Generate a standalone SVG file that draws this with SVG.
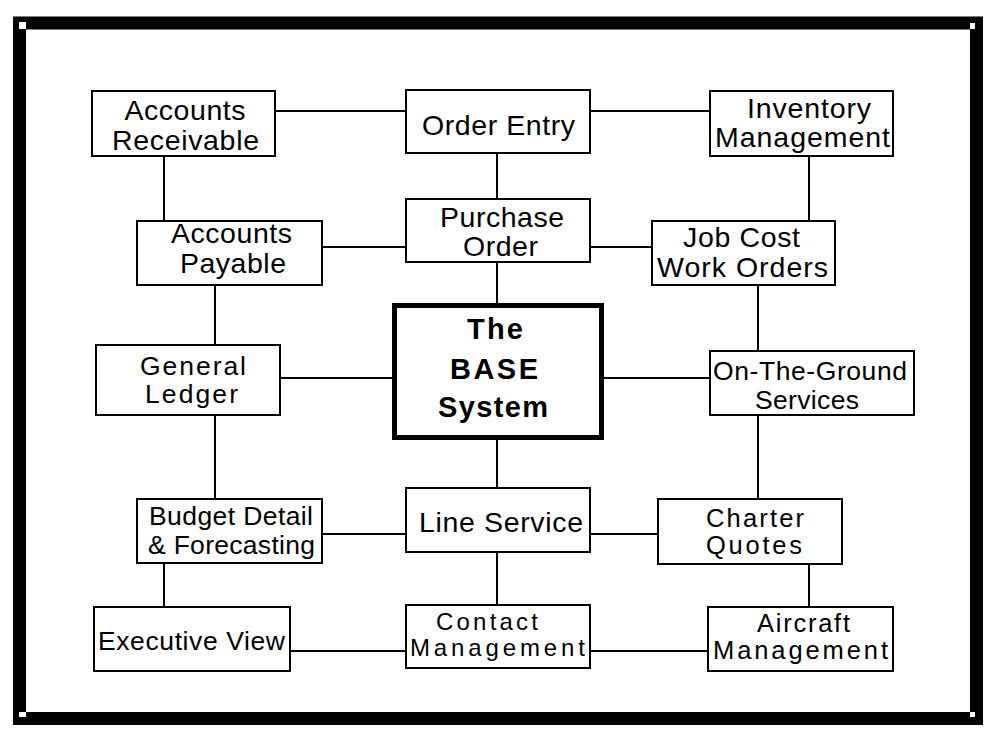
<svg xmlns="http://www.w3.org/2000/svg" width="1000" height="740" viewBox="0 0 1000 740">
<style>
.box{fill:#fff;stroke:#000;stroke-width:2}
.main{fill:#fff;stroke:#000;stroke-width:5}
.t{font-family:"Liberation Sans",Arial,sans-serif;font-size:28.5px;fill:#000;text-anchor:middle}
.s{font-size:26.5px}
.n{font-size:25.5px}
.m{font-size:24px}
.b{font-weight:bold;font-size:29px}
#connectors line{stroke:#000;stroke-width:2}
</style>
<rect x="0" y="0" width="1000" height="740" fill="#fff"/>
<g id="frame">
<rect x="19.5" y="23" width="957" height="695.5" fill="none" stroke="#000" stroke-width="13"/>
<rect x="19" y="22" width="7" height="7" fill="#fff"/>
<rect x="970" y="23" width="5" height="6" fill="#fff"/>
<rect x="19" y="712" width="7" height="5" fill="#fff"/>
<rect x="970" y="712" width="5" height="5" fill="#fff"/>
</g>
<g id="connectors">
<line x1="276" y1="111" x2="405" y2="111"/>
<line x1="591" y1="111" x2="709" y2="111"/>
<line x1="164" y1="157" x2="164" y2="220"/>
<line x1="497" y1="154" x2="497" y2="198"/>
<line x1="809" y1="157" x2="809" y2="220"/>
<line x1="323" y1="247" x2="405" y2="247"/>
<line x1="591" y1="247" x2="651" y2="247"/>
<line x1="215" y1="286" x2="215" y2="344"/>
<line x1="497" y1="263" x2="497" y2="303"/>
<line x1="758" y1="286" x2="758" y2="350"/>
<line x1="281" y1="378" x2="392" y2="378"/>
<line x1="604" y1="378" x2="709" y2="378"/>
<line x1="215" y1="416" x2="215" y2="498"/>
<line x1="497" y1="440" x2="497" y2="487"/>
<line x1="758" y1="416" x2="758" y2="498"/>
<line x1="323" y1="534" x2="405" y2="534"/>
<line x1="591" y1="534" x2="657" y2="534"/>
<line x1="164" y1="564" x2="164" y2="606"/>
<line x1="497" y1="553" x2="497" y2="604"/>
<line x1="809" y1="565" x2="809" y2="606"/>
<line x1="291" y1="651" x2="405" y2="651"/>
<line x1="591" y1="651" x2="707" y2="651"/>
</g>
<g id="accounts-receivable">
<rect class="box" x="92" y="91" width="183" height="65"/>
<text class="t" x="185" y="120" textLength="121">Accounts</text>
<text class="t" x="185.5" y="149.5" textLength="147">Receivable</text>
</g>
<g id="order-entry">
<rect class="box" x="406" y="90" width="184" height="63"/>
<text class="t" x="498.5" y="135" textLength="153">Order Entry</text>
</g>
<g id="inventory-management">
<rect class="box" x="710" y="91" width="183" height="65"/>
<text class="t" x="809" y="118" textLength="124">Inventory</text>
<text class="t" x="802.5" y="147" textLength="175">Management</text>
</g>
<g id="accounts-payable">
<rect class="box" x="137" y="221" width="185" height="64"/>
<text class="t" x="231.5" y="243" textLength="121">Accounts</text>
<text class="t" x="233" y="273" textLength="106">Payable</text>
</g>
<g id="purchase-order">
<rect class="box" x="406" y="199" width="184" height="63"/>
<text class="t" x="502" y="227" textLength="124">Purchase</text>
<text class="t" x="500.5" y="256" textLength="75">Order</text>
</g>
<g id="job-cost-work-orders">
<rect class="box" x="652" y="221" width="183" height="64"/>
<text class="t" x="741.5" y="247" textLength="117">Job Cost</text>
<text class="t" x="742.5" y="277" textLength="171">Work Orders</text>
</g>
<g id="general-ledger">
<rect class="box" x="96" y="345" width="184" height="70"/>
<text class="t s" x="193" y="375" textLength="106">General</text>
<text class="t s" x="191.5" y="403" textLength="93">Ledger</text>
</g>
<g id="base-system">
<rect class="main" x="394.5" y="305.5" width="207" height="132"/>
<text class="t b" x="495" y="339" textLength="56">The</text>
<text class="t b" x="494" y="379" textLength="88">BASE</text>
<text class="t b" x="493" y="417" textLength="110">System</text>
</g>
<g id="on-the-ground-services">
<rect class="box" x="710" y="351" width="204" height="64"/>
<text class="t s" x="810" y="380" textLength="194">On-The-Ground</text>
<text class="t s" x="807" y="409" textLength="104">Services</text>
</g>
<g id="budget-detail-forecasting">
<rect class="box" x="137" y="499" width="185" height="64"/>
<text class="t s" x="231" y="525" textLength="164">Budget Detail</text>
<text class="t s" x="231.5" y="554" textLength="167">&amp; Forecasting</text>
</g>
<g id="line-service">
<rect class="box" x="406" y="488" width="184" height="64"/>
<text class="t" x="501" y="532" textLength="164">Line Service</text>
</g>
<g id="charter-quotes">
<rect class="box" x="658" y="499" width="184" height="65"/>
<text class="t n" x="755" y="527" textLength="98">Charter</text>
<text class="t n" x="754" y="554" textLength="96">Quotes</text>
</g>
<g id="executive-view">
<rect class="box" x="94" y="607" width="196" height="64"/>
<text class="t s" x="191.5" y="650" textLength="187">Executive View</text>
</g>
<g id="contact-management">
<rect class="box" x="406" y="605" width="184" height="63"/>
<text class="t m" x="487" y="630" textLength="102">Contact</text>
<text class="t m" x="497.5" y="656" textLength="175">Management</text>
</g>
<g id="aircraft-management">
<rect class="box" x="708" y="607" width="185" height="64"/>
<text class="t n" x="803.5" y="632" textLength="93">Aircraft</text>
<text class="t n" x="800.5" y="659" textLength="175">Management</text>
</g>
</svg>
